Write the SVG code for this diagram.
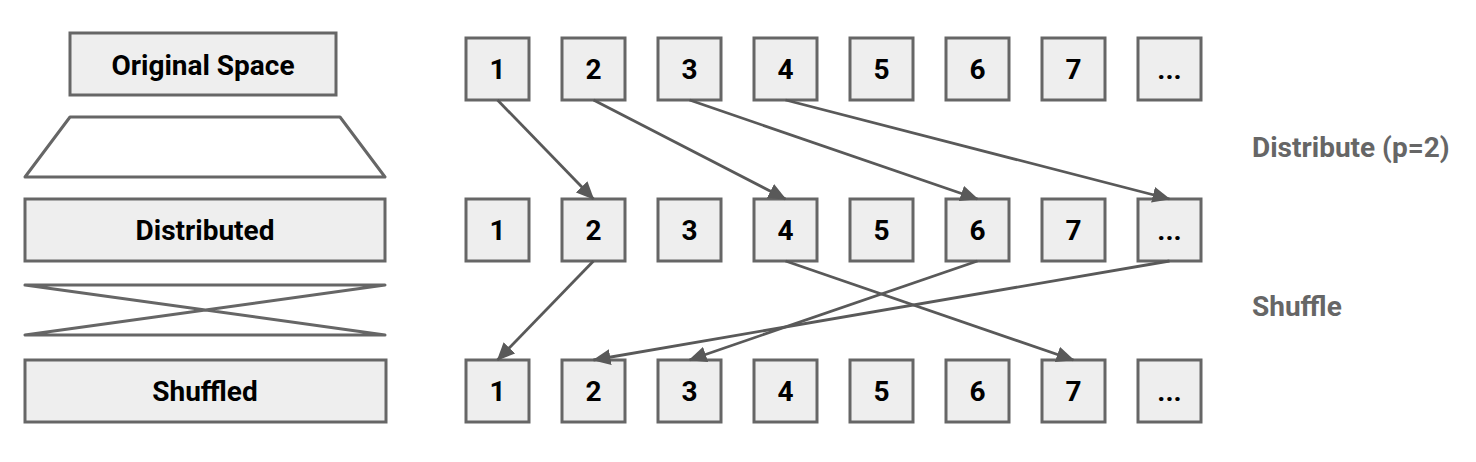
<svg xmlns="http://www.w3.org/2000/svg" width="1476" height="462" viewBox="0 0 1476 462">
<defs>
<style>
.box{fill:#eeeeee;stroke:#666666;stroke-width:3}
.shape{fill:#ffffff;stroke:#666666;stroke-width:3;stroke-linejoin:round}
.t{font-family:Roboto,"Liberation Sans",sans-serif;font-weight:bold;font-size:28px;fill:#000;text-anchor:middle}
.lbl{font-family:Roboto,"Liberation Sans",sans-serif;font-weight:bold;font-size:28px;fill:#666666}
.c{fill:none;stroke:#595959;stroke-width:2.8;marker-end:url(#ah)}
</style>
<marker id="ah" viewBox="0 0 18 16" refX="17" refY="8" markerWidth="18" markerHeight="16" markerUnits="userSpaceOnUse" orient="auto">
<path d="M0,0 L18,8 L0,16 z" fill="#595959"/>
</marker>
</defs>
<rect width="1476" height="462" fill="#ffffff"/>

<g id="original-space"><rect class="box" x="70" y="33" width="266" height="62"/><text class="t" x="203" y="75">Original Space</text></g>
<g id="distribute-shape"><path class="shape" d="M70,117 L340,117 L385,177 L25,177 Z"/></g>
<g id="distributed"><rect class="box" x="25" y="199" width="360" height="62"/><text class="t" x="205" y="240">Distributed</text></g>
<g id="shuffle-shape"><path class="shape" style="fill:none" d="M25,285 L385,285 L25,335 L385,335 Z"/></g>
<g id="shuffled"><rect class="box" x="25" y="360" width="361" height="62"/><text class="t" x="205" y="401">Shuffled</text></g>

<g id="row1">
<g id="r1c1"><rect class="box" x="466" y="38" width="63" height="62"/><text class="t" x="497.5" y="79">1</text></g>
<g id="r1c2"><rect class="box" x="562" y="38" width="63" height="62"/><text class="t" x="593.5" y="79">2</text></g>
<g id="r1c3"><rect class="box" x="658" y="38" width="63" height="62"/><text class="t" x="689.5" y="79">3</text></g>
<g id="r1c4"><rect class="box" x="754" y="38" width="63" height="62"/><text class="t" x="785.5" y="79">4</text></g>
<g id="r1c5"><rect class="box" x="850" y="38" width="63" height="62"/><text class="t" x="881.5" y="79">5</text></g>
<g id="r1c6"><rect class="box" x="946" y="38" width="63" height="62"/><text class="t" x="977.5" y="79">6</text></g>
<g id="r1c7"><rect class="box" x="1042" y="38" width="63" height="62"/><text class="t" x="1073.5" y="79">7</text></g>
<g id="r1c8"><rect class="box" x="1138" y="38" width="63" height="62"/><text class="t" x="1169.5" y="79">...</text></g>
</g>
<g id="row2">
<g id="r2c1"><rect class="box" x="466" y="199" width="63" height="62"/><text class="t" x="497.5" y="240">1</text></g>
<g id="r2c2"><rect class="box" x="562" y="199" width="63" height="62"/><text class="t" x="593.5" y="240">2</text></g>
<g id="r2c3"><rect class="box" x="658" y="199" width="63" height="62"/><text class="t" x="689.5" y="240">3</text></g>
<g id="r2c4"><rect class="box" x="754" y="199" width="63" height="62"/><text class="t" x="785.5" y="240">4</text></g>
<g id="r2c5"><rect class="box" x="850" y="199" width="63" height="62"/><text class="t" x="881.5" y="240">5</text></g>
<g id="r2c6"><rect class="box" x="946" y="199" width="63" height="62"/><text class="t" x="977.5" y="240">6</text></g>
<g id="r2c7"><rect class="box" x="1042" y="199" width="63" height="62"/><text class="t" x="1073.5" y="240">7</text></g>
<g id="r2c8"><rect class="box" x="1138" y="199" width="63" height="62"/><text class="t" x="1169.5" y="240">...</text></g>
</g>
<g id="row3">
<g id="r3c1"><rect class="box" x="466" y="360" width="63" height="62"/><text class="t" x="497.5" y="401">1</text></g>
<g id="r3c2"><rect class="box" x="562" y="360" width="63" height="62"/><text class="t" x="593.5" y="401">2</text></g>
<g id="r3c3"><rect class="box" x="658" y="360" width="63" height="62"/><text class="t" x="689.5" y="401">3</text></g>
<g id="r3c4"><rect class="box" x="754" y="360" width="63" height="62"/><text class="t" x="785.5" y="401">4</text></g>
<g id="r3c5"><rect class="box" x="850" y="360" width="63" height="62"/><text class="t" x="881.5" y="401">5</text></g>
<g id="r3c6"><rect class="box" x="946" y="360" width="63" height="62"/><text class="t" x="977.5" y="401">6</text></g>
<g id="r3c7"><rect class="box" x="1042" y="360" width="63" height="62"/><text class="t" x="1073.5" y="401">7</text></g>
<g id="r3c8"><rect class="box" x="1138" y="360" width="63" height="62"/><text class="t" x="1169.5" y="401">...</text></g>
</g>

<g id="connectors">
<line class="c" x1="497.5" y1="100" x2="593.5" y2="199"/>
<line class="c" x1="593.5" y1="100" x2="785.5" y2="199"/>
<line class="c" x1="689.5" y1="100" x2="977.5" y2="199"/>
<line class="c" x1="785.5" y1="100" x2="1169.5" y2="199"/>
<line class="c" x1="593.5" y1="261" x2="497.5" y2="360"/>
<line class="c" x1="785.5" y1="261" x2="1073.5" y2="360"/>
<line class="c" x1="977.5" y1="261" x2="689.5" y2="360"/>
<line class="c" x1="1169.5" y1="261" x2="593.5" y2="360"/>
</g>

<g id="labels">
<text class="lbl" x="1252" y="157">Distribute (p=2)</text>
<text class="lbl" x="1252" y="316">Shuffle</text>
</g>
</svg>
